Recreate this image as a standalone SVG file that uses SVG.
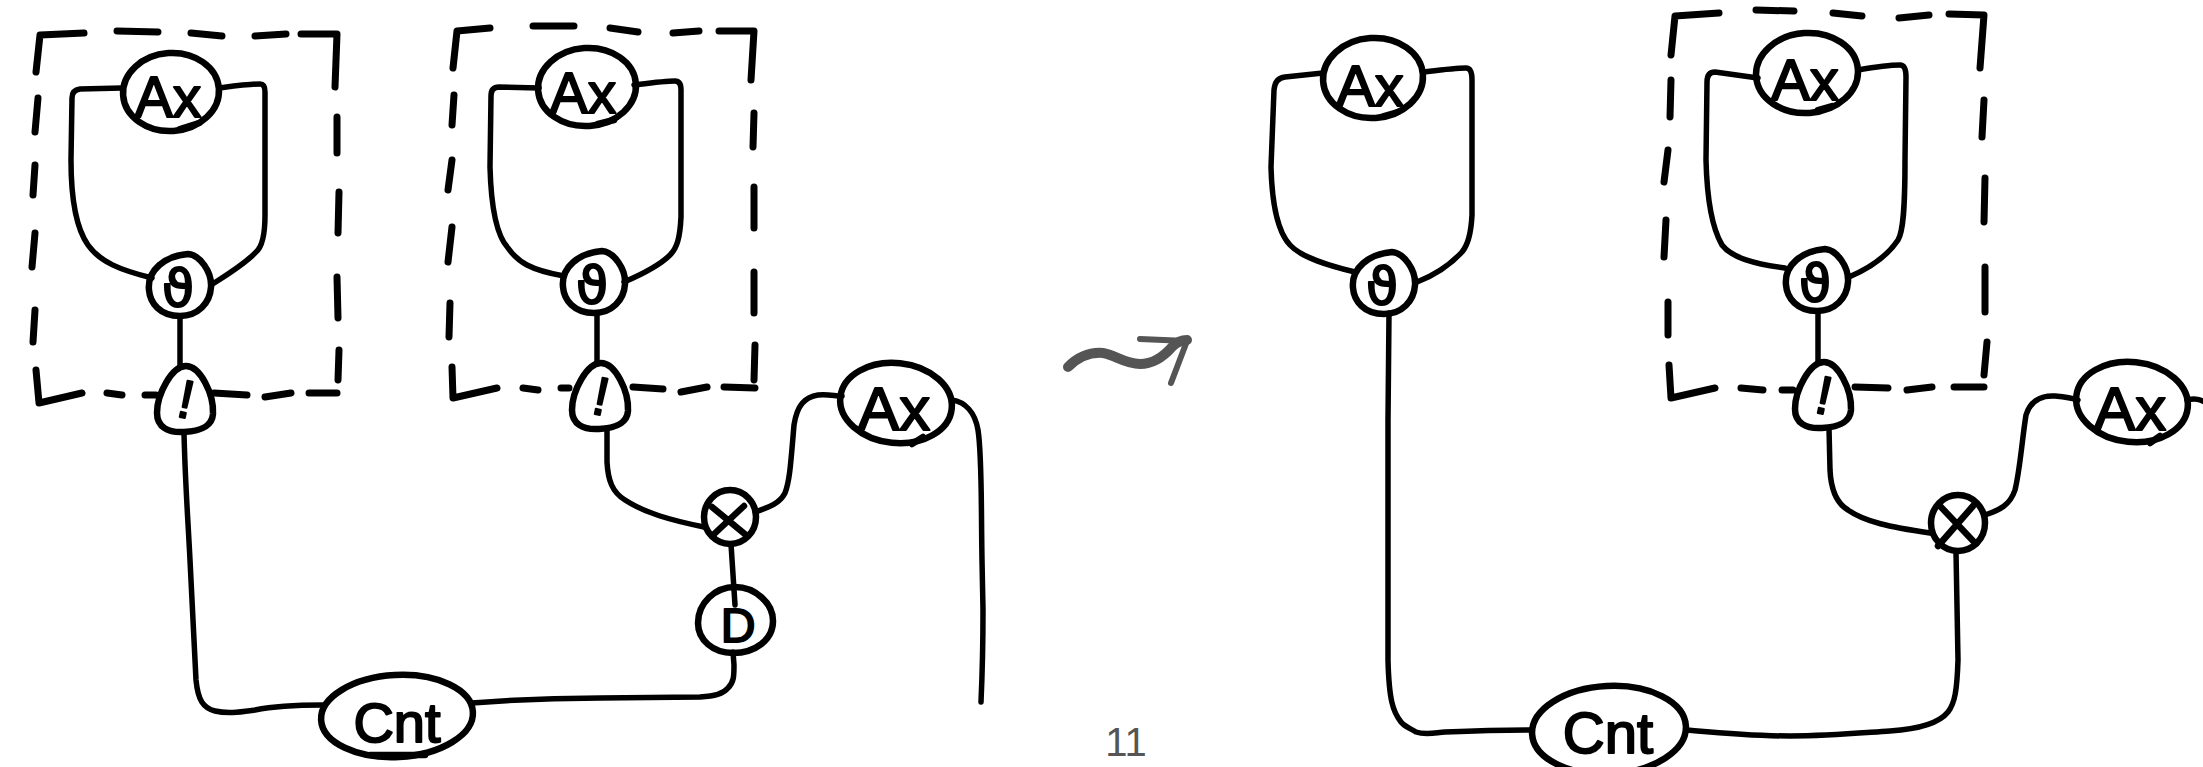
<svg xmlns="http://www.w3.org/2000/svg" width="2203" height="767" viewBox="0 0 2203 767">
<defs>
<style>
.bg{fill:#fff}
.nd{fill:none;stroke:#000;stroke-width:6.5;stroke-linecap:round;stroke-linejoin:round}
.cn{fill:none;stroke:#000;stroke-width:5.5;stroke-linecap:round;stroke-linejoin:round}
.ds{fill:none;stroke:#000;stroke-width:7;stroke-linecap:round;stroke-linejoin:round}
.lb{font-family:"Liberation Sans",Arial,sans-serif;fill:#000;stroke:#000;stroke-width:2;stroke-linejoin:round;text-anchor:middle}
.th{font-family:"DejaVu Sans","Liberation Sans",sans-serif;fill:#000;stroke:#000;stroke-width:2;stroke-linejoin:round;text-anchor:middle}
.gr{fill:none;stroke:#555;stroke-linecap:round;stroke-linejoin:round}
</style>
<path id="drop" d="M 0,-33 C 14,-33 28,-5 27,15 C 26,28 14,32 -2,33 C -18,34 -29,28 -29,14 C -29,-5 -14,-33 0,-33 Z"/>
<path id="thn" d="M -31,5 C -33,-15 -15,-29 8,-31 C 20,-30 32,-13 31,2 C 30,18 18,31 0,31 C -20,31 -30,18 -31,5 Z"/>
</defs>
<rect class="bg" x="0" y="0" width="2203" height="767"/>

<g id="connectors">
  <path class="cn" d="M 122,88 L 80,89 Q 72,90 72,98 L 71,160 C 71,200 76,228 88,245 C 100,262 120,270 152,278"/>
  <path class="cn" d="M 219,88 C 235,86 250,84 260,84 Q 265,84 265,92 L 265,215 C 265,235 262,247 256,252 C 245,264 228,274 211,285"/>
  <path class="cn" d="M 180,316 L 180,367"/>
  <path class="cn" d="M 184,432 C 185,480 188,520 190,560 L 196,680 C 198,700 203,708 215,711 C 228,714 240,712 255,710 C 275,706 295,705 322,705"/>
  <path class="cn" d="M 472,703 C 510,700 540,698 600,698 L 700,697 C 715,696 723,694 728,688 C 734,682 734,676 734,665 L 733,652"/>
  <path class="cn" d="M 731,544 L 735,605"/>
  <path class="cn" d="M 539,88 L 499,87 Q 491,87 491,96 L 490,167 C 491,205 496,235 508,248 C 518,262 530,270 564,276"/>
  <path class="cn" d="M 634,85 C 650,83 665,81 675,81 Q 681,81 681,90 L 681,217 C 680,238 677,248 670,255 C 660,265 645,273 624,282"/>
  <path class="cn" d="M 597,313 L 597,363"/>
  <path class="cn" d="M 607,428 L 607,462 C 608,480 612,492 625,500 C 645,513 670,520 704,527"/>
  <path class="cn" d="M 755,512 C 770,507 780,503 785,493 C 790,480 791,460 794,425 C 797,405 805,397 818,395 C 828,394 835,396 842,396"/>
  <path class="cn" d="M 952,400 C 965,402 975,412 978,430 C 982,455 981,500 982,560 L 983,610 C 983,650 982,680 981,702"/>
  <path class="cn" d="M 1323,73 L 1285,77 Q 1275,78 1274,90 L 1271,167 C 1272,205 1278,232 1290,245 C 1302,258 1330,266 1355,272"/>
  <path class="cn" d="M 1424,72 C 1440,70 1455,68 1466,68 Q 1472,68 1472,80 L 1472,215 C 1471,235 1468,245 1462,252 C 1450,265 1435,275 1417,282"/>
  <path class="cn" d="M 1389,313 L 1388,420 L 1388,660 C 1389,700 1393,712 1401,722 C 1405,727 1410,728 1416,732 C 1425,735 1433,733 1445,732 C 1470,731 1500,730 1531,730"/>
  <path class="cn" d="M 1686,730 C 1720,733 1750,736 1790,736 C 1830,736 1860,733 1890,731 C 1920,729 1940,722 1948,712 C 1955,703 1957,690 1958,660 L 1956,552"/>
  <path class="cn" d="M 1758,78 L 1715,72 Q 1707,72 1707,82 L 1706,160 C 1707,200 1712,228 1722,245 C 1732,258 1755,264 1785,268"/>
  <path class="cn" d="M 1858,70 C 1875,67 1890,65 1900,65 Q 1906,65 1906,77 L 1905,160 C 1905,210 1903,232 1898,240 C 1888,255 1870,268 1849,277"/>
  <path class="cn" d="M 1818,311 L 1818,362"/>
  <path class="cn" d="M 1829,428 L 1830,470 C 1831,490 1836,503 1848,510 C 1865,522 1890,527 1930,533"/>
  <path class="cn" d="M 1985,515 C 2000,510 2010,505 2015,490 C 2020,470 2022,440 2026,415 C 2030,402 2040,395 2055,396 C 2065,397 2072,398 2078,400"/>
  <path class="cn" d="M 2187,400 C 2195,398 2200,399 2208,404"/>
</g>

<g id="box1">
  <path class="ds" d="M 36,72 L 40,35 L 84,33 M 117,31 L 158,32 M 191,33 L 222,36 M 255,36 L 286,34 M 301,34 L 337,34 L 335,87 M 337,117 L 337,153 M 339,192 L 338,233 M 337,277 L 338,318 M 339,350 L 338,380 M 309,393 L 337,393 M 265,397 L 291,393 M 214,393 L 247,395 M 145,395 L 156,395 M 107,393 L 122,395 M 36,370 L 39,403 L 82,393 M 35,310 L 33,342 M 35,233 L 32,267 M 35,165 L 33,195 M 38,98 L 35,132"/>
</g>
<g id="box2">
  <path class="ds" d="M 453,68 L 457,31 L 490,28 M 533,26 L 574,26 M 610,28 L 638,32 M 673,33 L 699,31 M 719,31 L 754,31 L 751,80 M 754,113 L 753,147 M 754,187 L 754,228 M 754,272 L 754,313 M 755,345 L 754,380 M 724,387 L 755,388 M 681,392 L 707,387 M 633,387 L 663,389 M 561,388 L 569,388 M 523,388 L 538,390 M 452,367 L 453,398 L 497,388 M 450,303 L 449,337 M 452,227 L 448,262 M 452,160 L 448,190 M 454,95 L 452,125"/>
</g>
<g id="box3">
  <path class="ds" d="M 1671,55 L 1675,16 L 1719,13 M 1756,10 L 1794,11 M 1833,13 L 1862,16 M 1899,18 L 1929,15 M 1949,14 L 1984,15 L 1980,68 M 1984,100 L 1982,137 M 1985,178 L 1984,222 M 1985,267 L 1985,312 M 1987,342 L 1984,375 M 1954,387 L 1984,387 M 1907,390 L 1932,387 M 1855,387 L 1888,388 M 1782,390 L 1793,390 M 1741,388 L 1763,390 M 1669,365 L 1671,398 L 1715,388 M 1668,302 L 1668,335 M 1666,220 L 1664,257 M 1668,150 L 1664,182 M 1671,80 L 1670,117"/>
</g>

<g id="ax1">
  <ellipse class="nd" cx="171" cy="92" rx="48" ry="39" transform="rotate(-4 171 92)"/>
  <path class="nd" d="M 180,129 L 199,123"/>
  <text class="lb" x="168" y="117" font-size="57">Ax</text>
</g>
<g id="th1">
  <use href="#thn" class="nd" transform="translate(180,285)"/>
  <text class="th" x="178" y="306" font-size="52">ϑ</text>
</g>
<g id="ex1">
  <use href="#drop" class="nd" transform="translate(186,399)"/>
  <text class="lb" x="186" y="418" font-size="54" transform="rotate(12 186 400)">!</text>
</g>
<g id="ax2">
  <ellipse class="nd" cx="587" cy="87" rx="49" ry="39" transform="rotate(-4 587 87)"/>
  <path class="nd" d="M 598,124 L 614,120"/>
  <text class="lb" x="583" y="113" font-size="57">Ax</text>
</g>
<g id="th2">
  <use href="#thn" class="nd" transform="translate(594,282)"/>
  <text class="th" x="592" y="303" font-size="52">ϑ</text>
</g>
<g id="ex2">
  <use href="#drop" class="nd" transform="translate(601,396)"/>
  <text class="lb" x="601" y="415" font-size="54" transform="rotate(12 601 397)">!</text>
</g>
<g id="cnt1">
  <ellipse class="nd" cx="397" cy="716" rx="76" ry="41" transform="rotate(-3 397 716)"/>
  <path class="nd" d="M 370,755 L 425,755"/>
  <text class="lb" x="397" y="742" font-size="56">Cnt</text>
</g>
<g id="d1">
  <path class="nd" d="M 735,587 C 755,587 773,603 773,621 C 773,640 755,653 733,653 C 713,653 698,640 698,623 C 698,603 715,587 735,587 Z"/>
  <text class="lb" x="738" y="642" font-size="48">D</text>
</g>
<g id="ot1">
  <ellipse class="nd" cx="730" cy="517" rx="26" ry="27"/>
  <path class="nd" d="M 712,507 L 746,535 M 744,506 L 712,536"/>
</g>
<g id="ax3">
  <ellipse class="nd" cx="896" cy="403" rx="56" ry="40" transform="rotate(6 896 403)"/>
  <path class="nd" d="M 912,444 L 923,437"/>
  <text class="lb" x="894" y="430" font-size="62">Ax</text>
</g>

<g id="ax4">
  <ellipse class="nd" cx="1373" cy="78" rx="50" ry="40" transform="rotate(-4 1373 78)"/>
  <path class="nd" d="M 1384,116 L 1398,112"/>
  <text class="lb" x="1370" y="106" font-size="58">Ax</text>
</g>
<g id="th4">
  <use href="#thn" class="nd" transform="translate(1384,283)"/>
  <text class="th" x="1382" y="304" font-size="52">ϑ</text>
</g>
<g id="cnt2">
  <ellipse class="nd" cx="1609" cy="730" rx="77" ry="44" transform="rotate(-3 1609 730)"/>
  <text class="lb" x="1608" y="753" font-size="58">Cnt</text>
</g>
<g id="ot2">
  <ellipse class="nd" cx="1958" cy="523" rx="27" ry="28"/>
  <path class="nd" d="M 1940,506 L 1976,544 M 1973,506 L 1938,546"/>
</g>
<g id="ax6">
  <ellipse class="nd" cx="1807" cy="73" rx="51" ry="40" transform="rotate(-4 1807 73)"/>
  <path class="nd" d="M 1818,110 L 1832,106"/>
  <text class="lb" x="1805" y="100" font-size="58">Ax</text>
</g>
<g id="th6">
  <use href="#thn" class="nd" transform="translate(1817,280)"/>
  <text class="th" x="1815" y="301" font-size="52">ϑ</text>
</g>
<g id="ex3">
  <use href="#drop" class="nd" transform="translate(1824,395)"/>
  <text class="lb" x="1824" y="414" font-size="54" transform="rotate(12 1824 396)">!</text>
</g>
<g id="ax5">
  <ellipse class="nd" cx="2132" cy="402" rx="56" ry="40" transform="rotate(6 2132 402)"/>
  <path class="nd" d="M 2150,443 L 2160,436"/>
  <text class="lb" x="2130" y="430" font-size="62">Ax</text>
</g>

<g id="arrow">
  <path class="gr" stroke-width="10" d="M 1068,367 C 1078,357 1090,352 1103,353 C 1115,355 1125,364 1140,364 C 1155,364 1165,355 1172,347 C 1177,342 1182,340 1187,340"/>
  <path class="gr" stroke-width="6" d="M 1140,339 L 1187,341 L 1171,383"/>
</g>
<text x="1126" y="756" font-family="Liberation Sans, Arial, sans-serif" font-size="40" fill="#555" text-anchor="middle">11</text>
</svg>
